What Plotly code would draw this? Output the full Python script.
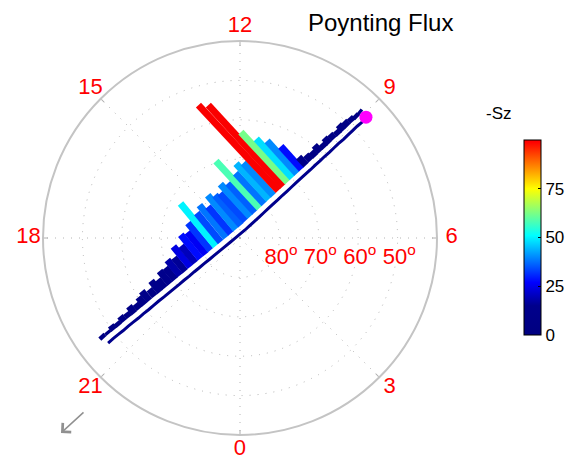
import numpy as np
import plotly.graph_objects as go

# ---- data ----
# satellite track (magnetic latitude, MLT hours) and -Sz Poynting flux along it
lat = [47.2, 48.9, 50.5, 52.2, 53.9, 55.5, 57.2, 58.9, 60.5, 62.2, 63.9, 65.6, 67.2, 68.9,
       70.6, 72.2, 73.9, 75.6, 77.2, 78.9, 80.6, 82.2, 83.9, 85.5, 87.2, 88.7, 89.0, 87.6,
       86.0, 84.4, 82.8, 81.2, 79.6, 78.0, 76.4, 74.7, 73.1, 71.5, 69.9, 68.3, 66.7, 65.1,
       63.4, 61.8, 60.2, 58.6, 57.0, 55.4, 53.7, 52.1, 50.5, 48.9, 47.3, 45.7]
mlt = [20.57, 20.56, 20.56, 20.56, 20.55, 20.55, 20.55, 20.54, 20.54, 20.53, 20.52, 20.52,
       20.51, 20.50, 20.49, 20.47, 20.46, 20.43, 20.41, 20.37, 20.33, 20.26, 20.16, 19.98,
       19.60, 18.28, 12.08, 9.87,
       9.46, 9.28, 9.18, 9.12, 9.08, 9.05, 9.02, 9.01, 8.99, 8.98, 8.97, 8.96, 8.95, 8.94,
       8.94, 8.93, 8.93, 8.92, 8.92, 8.92, 8.91, 8.91, 8.91, 8.91, 8.90, 8.92]
sz = [4, 3, 5, 4, 6, 5, 8, 6, 9, 11, 8, 13, 10, 15,
      14, 18, 16, 24, 20, 28, 26, 32, 50, 34, 38, 32, 40, 36,
      34, 40, 36, 58, 38, 44, 40, 106, 100, 62, 48, 40, 28, 10,
      7, 6, 8, 5, 7, 6, 5, 7, 6, 5, 4, 3]

mlt_ticks = [0, 3, 6, 9, 12, 15, 18, 21]
lat_ticks = [80, 70, 60, 50]
cbar_ticks = [0, 25, 50, 75]

# ---- style ----
BAR_OFFSET = 1.6      # deg colatitude between track and bar base
BAR_SCALE = 0.28      # deg colatitude per flux unit
BAR_WIDTH = 7
CMIN, CMAX = 0, 100
FONT = "Liberation Sans"
RIM = 50.0            # outer colatitude of the dial (40 deg latitude)
LABEL_RANGE = 54.6    # radial range of the overlay carrying the hour labels
MLT_LABEL_R = 53.7
LAT_LABEL_DROP = 5.3
CX, CY, RPX = 240, 238, 197   # dial centre and radius in pixels
W, H = 581, 462

cscale = [[0.0, "rgb(0,0,128)"], [0.15, "rgb(0,0,140)"], [0.27, "rgb(0,0,255)"],
          [0.51, "rgb(0,255,255)"], [0.75, "rgb(255,255,0)"], [0.99, "rgb(255,0,0)"],
          [1.0, "rgb(250,0,0)"]]


def color_of(v):
    f = min(max((v - CMIN) / (CMAX - CMIN), 0), 1)
    for (a, ca), (b, cb) in zip(cscale[:-1], cscale[1:]):
        if a <= f <= b:
            t = (f - a) / (b - a) if b > a else 0
            c1 = [int(x) for x in ca[4:-1].split(",")]
            c2 = [int(x) for x in cb[4:-1].split(",")]
            c = [round(c1[k] + t * (c2[k] - c1[k])) for k in range(3)]
            return f"rgb({c[0]},{c[1]},{c[2]})"
    return cscale[-1][1]


colat = 90 - np.array(lat)
theta = np.array(mlt) * 15.0
th = np.radians(theta)
# cartesian in the polar frame (0 MLT down, 6 MLT right)
X = colat * np.sin(th)
Y = -colat * np.cos(th)
tx, ty = np.gradient(X), np.gradient(Y)
nrm = np.hypot(tx, ty)
nx, ny = -ty / nrm, tx / nrm


def to_polar(x, y):
    return np.hypot(x, y), np.degrees(np.arctan2(x, -y)) % 360


def dom(rpx):
    return (dict(x=[(CX - rpx) / W, (CX + rpx) / W],
                 y=[(H - CY - rpx) / H, (H - CY + rpx) / H]))


fig = go.Figure()

# bars
for k, v in enumerate(sz):
    d0 = BAR_OFFSET
    d1 = BAR_OFFSET + BAR_SCALE * v
    xs = np.array([X[k] + nx[k] * d0, X[k] + nx[k] * d1])
    ys = np.array([Y[k] + ny[k] * d0, Y[k] + ny[k] * d1])
    r, t = to_polar(xs, ys)
    fig.add_trace(go.Scatterpolar(r=r, theta=t, mode="lines",
                                  line=dict(color=color_of(v), width=BAR_WIDTH),
                                  hoverinfo="skip", showlegend=False))

# track
fig.add_trace(go.Scatterpolar(r=colat, theta=theta, mode="lines",
                              line=dict(color="rgb(0,0,140)", width=3),
                              showlegend=False))
# end point
fig.add_trace(go.Scatterpolar(r=[colat[-1]], theta=[theta[-1]], mode="markers",
                              marker=dict(color="#ff00ff", size=13),
                              showlegend=False))
# colorbar carrier
fig.add_trace(go.Scatterpolar(
    r=colat, theta=theta, mode="markers",
    marker=dict(size=0.1, color=sz, colorscale=cscale, cmin=CMIN, cmax=CMAX, showscale=True,
                colorbar=dict(x=524 / W, xanchor="left", y=(H - 335) / H,
                              yanchor="bottom", len=195 / H, lenmode="fraction",
                              thickness=17, outlinewidth=1, outlinecolor="black",
                              tickvals=cbar_ticks, ticks="inside", ticklen=3,
                              tickcolor="black", xpad=0, ypad=0,
                              tickfont=dict(family=FONT, size=17, color="black"))),
    hoverinfo="skip", showlegend=False))

# latitude labels just below the 6 MLT axis
lx = np.array([90 - v for v in lat_ticks], dtype=float) + 0.4
ly = -LAT_LABEL_DROP * np.ones_like(lx)
lr, lt = to_polar(lx, ly)
fig.add_trace(go.Scatterpolar(
    r=lr, theta=lt, mode="text", text=[f"{v}<sup>o</sup>" for v in lat_ticks],
    textposition="middle center", textfont=dict(family=FONT, size=22, color="red"),
    cliponaxis=False, hoverinfo="skip", showlegend=False))

# hour labels round the rim, on a concentric overlay dial
fig.add_trace(go.Scatterpolar(
    r=[MLT_LABEL_R] * len(mlt_ticks), theta=[m * 15 for m in mlt_ticks],
    mode="text", text=[str(m) for m in mlt_ticks], textposition="middle center",
    textfont=dict(family=FONT, size=22, color="red"), cliponaxis=False,
    hoverinfo="skip", showlegend=False, subplot="polar2"))

grid = dict(gridcolor="#b4b4b4", griddash="1px,7px", gridwidth=1)
fig.update_layout(
    width=W, height=H, margin=dict(l=0, r=0, t=0, b=0),
    paper_bgcolor="white", plot_bgcolor="white", showlegend=False,
    polar=dict(
        domain=dom(RPX), bgcolor="white",
        radialaxis=dict(range=[0, RIM], tickmode="array",
                        tickvals=[90 - v for v in lat_ticks], showticklabels=False,
                        angle=0, showline=False, ticks="", **grid),
        angularaxis=dict(rotation=-90, direction="counterclockwise", tickmode="array",
                         tickvals=[m * 15 for m in mlt_ticks], showticklabels=False,
                         showline=True, linecolor="#c4c4c4", linewidth=2,
                         ticks="inside", ticklen=4, tickcolor="#b0b0b0", **grid),
    ),
    polar2=dict(
        domain=dom(RPX * LABEL_RANGE / RIM), bgcolor="rgba(0,0,0,0)",
        radialaxis=dict(range=[0, LABEL_RANGE], visible=False),
        angularaxis=dict(rotation=-90, direction="counterclockwise", visible=False),
    ),
    annotations=[
        dict(text="Poynting Flux", x=380 / W, y=1 - 22 / H, xref="paper", yref="paper",
             xanchor="center", yanchor="middle", showarrow=False,
             font=dict(family=FONT, size=24, color="black")),
        dict(text="-Sz", x=499 / W, y=1 - 113 / H, xref="paper", yref="paper",
             xanchor="center", yanchor="middle", showarrow=False,
             font=dict(family=FONT, size=17, color="black")),
        dict(text="", x=61 / W, y=1 - 433 / H, xref="paper", yref="paper",
             showarrow=True, ax=24, ay=-22, arrowhead=4, arrowsize=1.6, arrowwidth=1.5,
             arrowcolor="#909090"),
    ],
)

fig.write_html("out.html", config={"displayModeBar": False},
               post_script="document.body.style.margin='0px';")
